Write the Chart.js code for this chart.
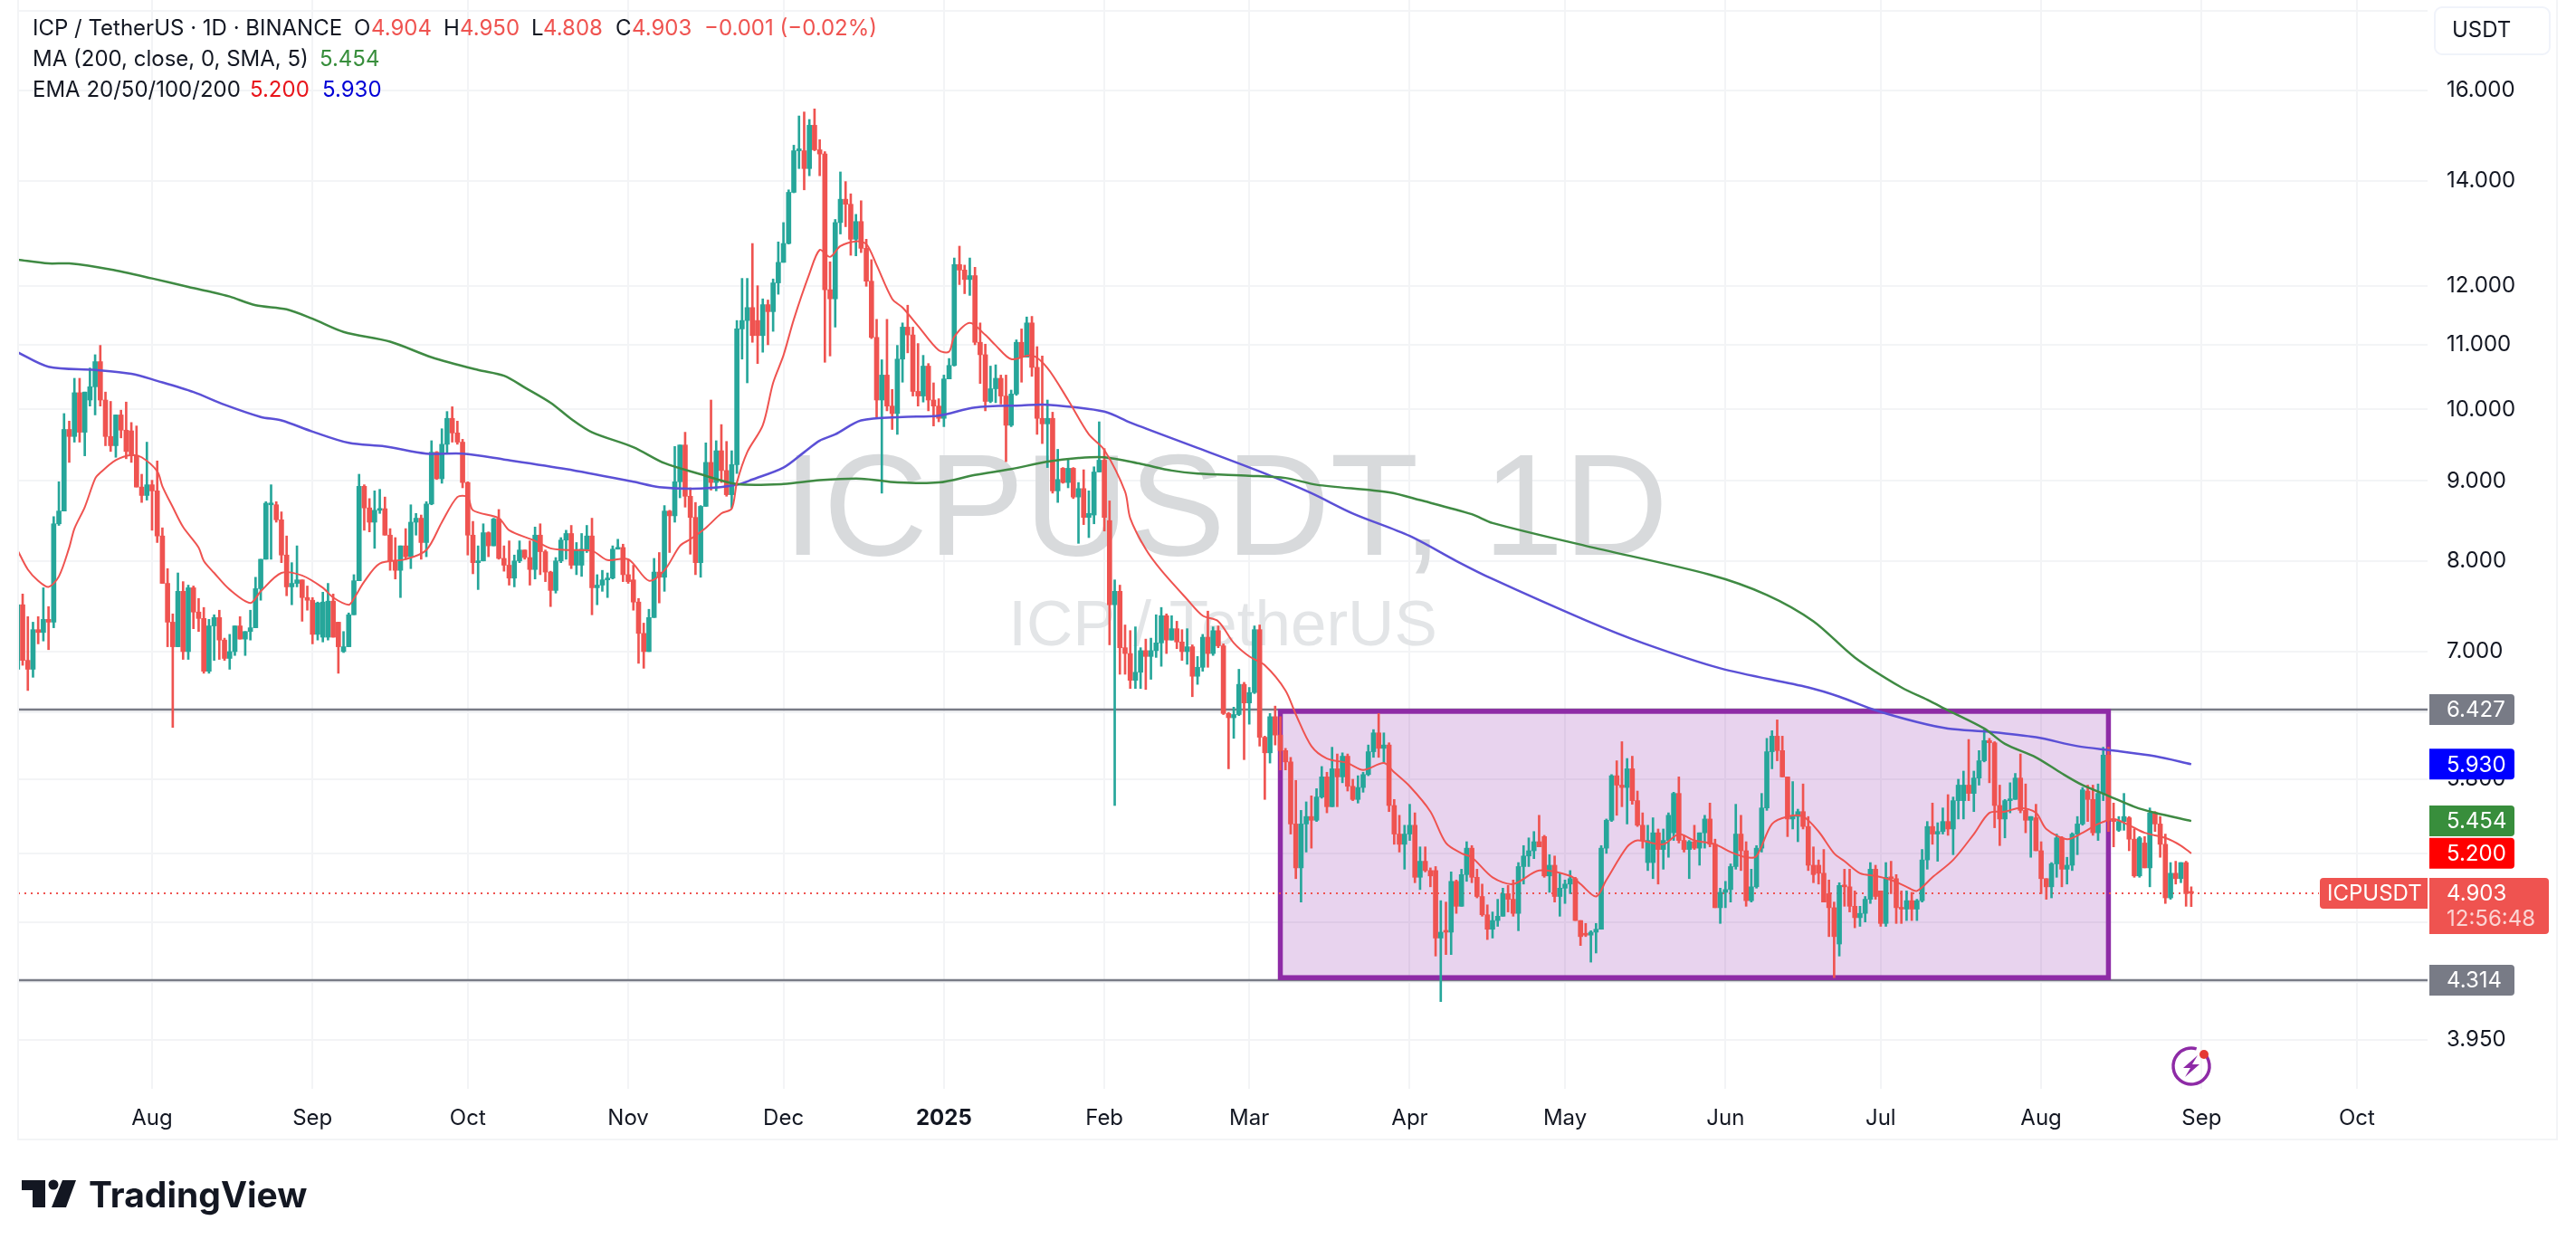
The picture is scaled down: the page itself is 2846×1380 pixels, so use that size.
<!DOCTYPE html>
<html>
<head>
<meta charset="utf-8">
<title>ICP / TetherUS</title>
<style>
    html, body { margin: 0; padding: 0; background: #ffffff; }
    canvas { display: block; }
</style>
<script src="https://cdn.jsdelivr.net/npm/chart.js@4"></script>
</head>
<body>
<canvas id="priceChart" width="2846" height="1380"></canvas>
<script>
// Daily candles, one per day. Days are counted from 1 Aug 2024.
const firstCandleDay = -26;

const opens = [
    6.82,7.50,6.91,6.82,7.23,7.20,7.34,7.31,8.45,8.61,
    9.71,9.61,10.25,9.67,10.14,10.34,10.73,10.14,9.61,9.48,
    9.92,9.70,9.69,9.34,8.92,8.81,8.95,8.87,8.30,7.74,
    7.31,7.05,7.65,7.00,7.69,7.42,7.35,6.80,7.27,7.36,
    7.12,6.93,7.00,7.27,7.13,7.21,7.25,7.68,8.02,8.69,
    8.69,8.50,8.07,7.70,7.74,7.78,7.58,7.55,7.18,7.15,
    7.15,7.54,7.31,7.00,7.05,7.39,7.77,8.93,8.65,8.47,
    8.62,8.64,8.31,8.00,7.89,8.18,8.05,8.47,8.52,8.22,
    8.70,9.39,9.03,9.50,9.87,9.66,9.53,8.98,8.31,7.98,
    8.00,8.34,8.18,8.51,8.03,7.95,7.80,8.00,8.13,8.04,
    7.90,8.31,8.11,7.87,7.66,8.00,8.25,8.33,7.95,7.95,
    8.14,8.30,7.69,7.72,7.78,7.80,8.14,8.16,7.84,7.78,
    7.53,7.19,7.00,7.36,7.87,7.81,8.61,8.55,8.99,9.49,
    8.80,8.53,7.98,8.67,9.25,8.98,9.41,9.14,8.82,9.22,
    11.26,11.40,11.62,11.40,11.15,11.67,11.55,12.05,12.42,12.77,
    13.77,14.64,14.64,14.26,15.20,14.66,14.57,11.93,11.77,13.17,
    13.63,13.53,12.85,13.19,12.68,12.08,11.12,10.14,10.52,10.05,
    9.94,10.77,11.29,11.16,10.27,10.20,10.66,10.14,10.05,9.87,
    10.46,10.67,12.38,12.28,12.11,12.18,11.04,10.84,10.12,10.31,
    10.47,10.20,9.77,10.23,11.04,10.80,11.36,10.64,9.87,9.79,
    9.87,8.87,9.17,8.98,9.17,8.79,8.90,8.53,8.56,9.12,
    9.28,8.49,7.50,7.65,7.04,6.98,6.71,6.79,7.01,6.95,
    7.01,7.09,7.38,7.12,7.24,7.10,7.00,7.05,6.75,6.84,
    7.15,6.98,7.22,7.06,6.39,6.35,6.38,6.67,6.49,6.59,
    7.23,6.17,6.03,6.36,6.19,6.05,5.95,5.43,5.09,5.43,
    5.49,5.46,5.65,5.82,5.57,5.89,5.82,6.00,5.74,5.63,
    5.73,5.84,6.04,6.21,6.07,6.10,5.58,5.35,5.27,5.35,
    5.42,5.02,5.14,5.07,5.07,4.59,4.64,4.63,4.99,4.81,
    5.04,5.24,5.02,4.88,4.75,4.65,4.71,4.74,4.90,4.86,
    4.76,5.10,5.18,5.22,5.29,5.33,5.03,5.11,4.88,4.94,
    4.97,5.01,4.71,4.62,4.61,4.63,4.65,5.24,5.46,5.83,
    5.75,5.73,5.89,5.62,5.42,5.13,5.13,5.36,5.23,5.30,
    5.36,5.68,5.30,5.23,5.29,5.24,5.36,5.47,5.27,4.80,
    4.91,4.93,5.10,5.35,5.22,4.85,4.95,5.24,5.56,6.04,
    6.18,6.05,5.82,5.47,5.49,5.53,5.41,5.11,5.11,5.05,
    4.90,4.80,4.55,4.96,4.95,4.81,4.73,4.76,4.86,5.08,
    4.92,4.69,5.02,5.01,4.80,4.79,4.85,4.79,4.85,5.15,
    5.41,5.35,5.37,5.45,5.39,5.62,5.62,5.75,5.68,5.81,
    5.96,6.14,6.12,5.58,5.47,5.62,5.63,5.81,5.54,5.46,
    5.48,5.22,5.01,4.95,5.12,5.32,5.08,5.11,5.35,5.43,
    5.70,5.63,5.36,5.68,6.01,5.46,5.38,5.45,5.48,5.31,
    5.03,5.28,5.09,5.52,5.43,5.27,4.87,5.05,5.01,5.13,4.904
];
const highs = [
    7.50,7.62,7.37,7.31,7.37,7.69,7.48,8.54,8.99,9.94,
    9.83,10.47,10.47,10.26,10.63,10.84,10.99,10.26,10.12,9.92,
    9.99,10.11,9.81,9.76,9.09,9.53,9.01,9.27,8.40,7.91,
    7.40,7.86,7.76,7.72,7.71,7.57,7.47,7.34,7.39,7.44,
    7.14,7.18,7.27,7.37,7.21,7.44,7.81,8.02,8.73,8.95,
    8.73,8.60,8.30,7.98,8.18,7.78,7.71,7.58,7.53,7.64,
    7.74,7.62,7.31,7.21,7.41,7.84,9.09,8.95,8.77,8.87,
    8.89,8.79,8.39,8.28,8.18,8.39,8.69,8.58,8.56,8.73,
    9.55,9.40,9.72,9.97,10.04,9.83,9.57,8.99,8.48,8.18,
    8.45,8.35,8.52,8.63,8.18,8.24,8.07,8.24,8.13,8.24,
    8.41,8.45,8.13,7.88,8.04,8.28,8.37,8.43,8.22,8.33,
    8.43,8.52,7.84,7.89,7.86,8.18,8.26,8.20,8.02,7.95,
    7.57,7.30,7.45,8.03,8.10,8.68,8.62,9.47,9.49,9.67,
    8.91,8.72,8.68,9.52,10.14,9.55,9.78,9.54,9.41,11.40,
    12.13,12.13,12.77,12.00,11.77,11.75,12.12,12.80,13.17,13.82,
    14.76,15.41,15.50,15.33,15.57,14.88,14.62,12.43,13.23,14.19,
    13.99,13.74,13.33,13.60,12.85,12.47,11.42,10.76,11.42,10.30,
    10.99,11.36,11.66,11.29,11.02,10.83,10.70,10.40,10.16,10.52,
    10.78,12.50,12.72,12.37,12.50,12.33,11.36,11.01,10.66,10.68,
    10.52,10.52,10.29,11.08,11.26,11.46,11.47,10.97,10.82,10.14,
    9.96,9.43,9.18,9.30,9.18,8.98,9.15,8.87,9.19,9.82,
    9.44,8.74,7.78,7.72,7.28,7.22,7.26,7.04,7.13,7.14,
    7.39,7.47,7.40,7.38,7.32,7.23,7.24,7.07,6.95,7.18,
    7.43,7.26,7.27,7.08,6.40,6.45,6.82,6.69,6.64,7.27,
    7.28,6.18,6.39,6.46,6.36,6.07,5.99,5.79,5.54,5.61,
    5.66,5.72,5.91,5.86,6.08,6.02,6.03,6.02,5.80,5.83,
    5.86,6.10,6.24,6.39,6.21,6.12,5.63,5.50,5.42,5.59,
    5.52,5.25,5.25,5.09,5.10,4.85,4.84,5.06,5.00,5.08,
    5.29,5.26,5.08,4.97,4.82,4.77,4.86,4.94,4.96,5.00,
    5.13,5.26,5.32,5.37,5.50,5.34,5.19,5.18,5.05,5.00,
    5.07,5.02,4.71,4.69,4.64,4.69,5.26,5.47,5.84,5.96,
    6.13,5.98,6.00,5.70,5.52,5.42,5.48,5.39,5.39,5.52,
    5.69,5.82,5.34,5.30,5.42,5.36,5.50,5.60,5.31,4.94,
    4.99,5.12,5.59,5.50,5.29,5.08,5.26,5.68,6.16,6.23,
    6.33,6.18,5.82,5.78,5.55,5.76,5.49,5.25,5.15,5.23,
    5.00,4.84,4.98,5.08,5.08,4.92,4.81,4.88,5.13,5.11,
    4.92,5.13,5.14,5.04,4.92,4.92,4.91,4.86,5.23,5.45,
    5.60,5.44,5.56,5.67,5.65,5.80,5.87,6.15,5.87,6.05,
    6.24,6.16,6.13,5.75,5.63,5.77,5.85,6.02,5.76,5.49,
    5.59,5.29,5.01,5.13,5.35,5.33,5.17,5.36,5.49,5.73,
    5.75,5.75,5.76,6.08,6.08,5.60,5.49,5.68,5.49,5.39,
    5.33,5.33,5.56,5.53,5.49,5.35,5.13,5.14,5.13,5.14,4.95
];
const lows = [
    6.69,6.86,6.61,6.74,7.08,7.11,7.02,7.25,8.43,8.61,
    9.25,9.53,9.53,9.34,10.05,9.92,10.05,9.48,9.40,9.32,
    9.59,9.30,9.25,8.92,8.72,8.75,8.37,8.22,7.74,7.05,
    6.26,7.05,6.92,6.92,7.24,7.21,6.78,6.78,6.91,6.92,
    6.91,6.82,6.96,7.13,6.96,7.12,7.25,7.55,8.02,8.02,
    8.47,7.98,7.60,7.50,7.70,7.32,7.44,7.08,7.12,7.10,
    7.12,7.15,6.78,6.99,7.05,7.39,7.77,8.37,8.35,8.15,
    8.58,8.31,7.89,7.79,7.58,8.02,7.91,8.31,8.02,8.05,
    8.69,9.02,8.97,9.38,9.53,9.50,8.91,8.07,7.85,7.67,
    8.00,8.05,8.18,8.02,7.88,7.72,7.70,7.98,8.02,7.72,
    7.79,7.84,7.76,7.48,7.63,7.98,8.02,7.91,7.84,7.82,
    8.10,7.39,7.50,7.65,7.58,7.79,8.14,7.76,7.74,7.44,
    6.88,6.83,7.00,7.36,7.52,7.65,8.10,8.47,8.78,8.66,
    8.08,7.84,7.81,8.67,8.88,8.87,8.98,8.80,8.65,9.10,
    10.77,10.40,11.04,10.70,10.88,11.00,11.22,11.85,12.42,12.76,
    13.76,14.26,13.82,14.11,14.64,14.11,10.72,10.82,11.29,12.95,
    13.09,12.55,12.54,12.60,11.99,11.10,9.87,8.84,9.98,9.71,
    9.64,10.41,10.87,10.20,10.05,10.11,9.98,9.76,9.82,9.75,
    10.46,10.66,12.02,11.86,11.83,11.00,10.39,9.98,10.10,10.10,
    10.08,9.26,9.75,10.21,10.41,10.80,10.50,9.64,9.51,9.18,
    8.84,8.72,8.97,8.91,8.77,8.21,8.44,8.28,8.45,9.12,
    8.36,7.07,5.58,6.77,6.77,6.63,6.63,6.63,6.62,6.72,
    6.94,6.85,6.98,7.12,7.03,6.91,6.87,6.55,6.67,6.80,
    6.84,6.96,7.04,6.38,5.89,6.16,6.37,5.97,6.29,6.58,
    6.09,5.63,5.94,6.10,5.88,5.88,5.35,5.01,4.84,5.21,
    5.24,5.45,5.64,5.52,5.57,5.57,5.77,5.70,5.62,5.60,
    5.69,5.83,5.99,5.99,5.94,5.53,5.27,5.21,5.08,5.30,
    4.98,4.93,5.06,4.95,4.47,4.18,4.48,4.48,4.76,4.81,
    4.99,4.98,4.87,4.74,4.58,4.59,4.67,4.74,4.77,4.74,
    4.64,4.97,5.10,5.16,5.25,5.02,4.91,4.84,4.74,4.83,
    4.90,4.71,4.54,4.60,4.43,4.49,4.65,5.20,5.45,5.50,
    5.57,5.43,5.59,5.41,5.24,5.07,5.01,4.97,5.08,5.17,
    5.30,5.28,5.21,5.01,5.23,5.11,5.24,5.25,4.80,4.69,
    4.80,4.84,5.08,5.07,4.81,4.84,4.94,5.21,5.54,5.89,
    5.96,5.82,5.33,5.39,5.29,5.39,5.07,4.98,4.97,4.84,
    4.60,4.33,4.47,4.81,4.77,4.66,4.67,4.70,4.83,4.86,
    4.67,4.67,4.90,4.69,4.69,4.71,4.71,4.71,4.84,5.08,
    5.27,5.14,5.35,5.34,5.19,5.47,5.47,5.62,5.53,5.75,
    5.95,5.77,5.40,5.26,5.32,5.52,5.63,5.52,5.36,5.17,
    5.22,4.90,4.86,4.87,5.02,4.95,4.97,5.07,5.19,5.42,
    5.45,5.34,5.30,5.62,5.37,5.25,5.37,5.38,5.22,5.02,
    5.02,5.09,4.95,5.37,5.17,4.83,4.86,4.97,4.98,4.81,4.808
];
const closes = [
    7.50,6.91,6.82,7.23,7.20,7.34,7.31,8.45,8.61,9.71,
    9.61,10.25,9.67,10.26,10.34,10.73,10.14,9.61,9.48,9.92,
    9.70,9.40,9.34,8.92,8.81,8.95,8.87,8.30,7.74,7.31,
    7.05,7.65,7.00,7.69,7.42,7.35,6.80,7.27,7.36,7.12,
    6.93,7.00,7.27,7.13,7.21,7.25,7.68,8.02,8.71,8.71,
    8.50,8.07,7.70,7.74,7.78,7.58,7.55,7.18,7.52,7.53,
    7.54,7.15,7.05,7.05,7.39,7.77,8.93,8.65,8.47,8.62,
    8.64,8.31,8.00,7.89,8.18,8.05,8.47,8.52,8.22,8.70,
    9.39,9.03,9.50,9.87,9.66,9.53,8.98,8.31,7.98,8.00,
    8.34,8.18,8.51,8.03,7.95,7.80,8.00,8.13,8.04,7.90,
    8.31,8.11,7.87,7.66,8.00,8.25,8.33,7.95,8.13,8.14,
    8.30,7.69,7.72,7.78,7.80,8.14,8.16,7.84,7.76,7.53,
    7.19,7.00,7.36,7.87,7.81,8.61,8.55,8.99,9.49,8.80,
    8.53,7.98,8.67,9.25,8.98,9.41,9.14,8.82,9.22,11.26,
    11.40,11.62,11.15,11.15,11.67,11.55,12.05,12.42,12.77,13.77,
    14.64,14.68,14.26,15.20,14.66,14.57,11.93,11.77,13.17,13.63,
    13.53,12.85,13.19,12.68,12.08,11.12,10.14,10.52,10.05,9.94,
    10.77,11.29,11.16,10.27,10.20,10.66,10.14,10.05,9.87,10.46,
    10.67,12.38,12.28,12.11,12.18,11.04,10.84,10.12,10.31,10.47,
    10.20,9.77,10.23,11.04,10.80,11.36,10.64,9.87,9.79,9.87,
    8.87,9.02,8.98,9.17,8.79,8.90,8.53,8.58,9.12,9.28,
    8.53,7.50,7.65,7.04,6.98,6.71,6.79,7.01,6.95,7.01,
    7.09,7.38,7.12,7.24,7.10,7.00,7.05,6.75,6.84,7.15,
    6.98,7.22,7.06,6.39,6.35,6.38,6.67,6.49,6.59,7.23,
    6.17,6.03,6.36,6.19,6.05,5.95,5.43,5.09,5.43,5.49,
    5.46,5.65,5.82,5.57,5.89,5.82,6.00,5.74,5.63,5.73,
    5.84,6.04,6.21,6.07,6.10,5.58,5.35,5.27,5.35,5.42,
    5.02,5.14,5.07,5.03,4.59,4.63,4.63,4.99,4.81,5.04,
    5.24,5.02,4.88,4.75,4.65,4.71,4.74,4.90,4.86,4.76,
    5.10,5.18,5.22,5.29,5.25,5.03,5.11,4.88,4.94,4.97,
    5.01,4.71,4.60,4.61,4.63,4.65,5.24,5.46,5.83,5.75,
    5.73,5.89,5.62,5.42,5.30,5.30,5.36,5.23,5.30,5.50,
    5.68,5.30,5.23,5.29,5.24,5.36,5.47,5.27,4.80,4.91,
    4.93,5.10,5.35,5.22,4.85,4.95,5.24,5.56,6.04,6.18,
    6.05,5.82,5.47,5.49,5.53,5.41,5.11,5.04,5.05,4.84,
    4.80,4.60,4.96,4.95,4.81,4.73,4.76,4.86,5.08,4.88,
    4.69,5.02,5.01,4.80,4.79,4.85,4.79,4.85,5.15,5.41,
    5.35,5.37,5.45,5.39,5.62,5.75,5.75,5.68,5.81,5.96,
    6.14,6.12,5.58,5.47,5.62,5.63,5.81,5.54,5.46,5.49,
    5.22,5.01,4.95,5.12,5.32,5.08,5.11,5.35,5.43,5.71,
    5.63,5.36,5.68,6.01,5.46,5.45,5.45,5.49,5.31,5.03,
    5.32,5.09,5.52,5.43,5.27,4.87,5.05,5.01,5.13,4.90,4.903
];

// Indicator lines at these days
const ema20Days = [-26,-24,-22,-20,-18,-16,-15,-13,-11,-10,-7,-4,-2,1,2,4,6,9,10,12,15,19,21,25,29,33,35,38,39,41,44,49,53,56,59,61,62,67,69,74,77,80,85,88,92,96,99,102,104,107,110,112,113,115,118,120,122,124,127,129,131,133,136,138,140,143,145,148,152,154,155,158,161,163,166,170,173,177,181,184,188,189,192,195,200,203,206,209,212,215,219,221,224,227,231,234,238,240,243,247,250,253,255,259,263,268,274,276,279,281,285,287,292,295,298,302,305,308,310,313,316,319,322,325,327,330,333,336,339,341,344,348,352,355,358,361,364,366,370,373,376,379,382,385,389,392,394];
const ema20 = [8.13,7.90,7.77,7.70,7.82,8.16,8.39,8.66,9.03,9.11,9.28,9.35,9.32,9.13,8.93,8.66,8.41,8.16,8.00,7.86,7.67,7.52,7.65,7.86,7.83,7.69,7.58,7.50,7.57,7.76,7.97,8.02,8.13,8.47,8.79,8.79,8.62,8.52,8.37,8.24,8.15,8.13,8.12,8.01,8.02,7.77,7.89,8.18,8.26,8.40,8.58,8.64,8.98,9.39,9.77,10.40,10.83,11.42,12.21,12.65,12.52,12.72,12.81,12.76,12.37,11.77,11.62,11.31,10.91,10.89,11.13,11.36,11.16,10.99,10.77,10.83,10.63,10.14,9.64,9.42,8.86,8.52,8.14,7.89,7.56,7.38,7.32,7.09,6.95,6.86,6.61,6.38,6.09,5.98,5.94,5.88,5.94,5.86,5.74,5.53,5.28,5.20,5.17,5.02,4.97,5.07,5.03,4.97,4.88,5.00,5.25,5.30,5.27,5.35,5.30,5.27,5.21,5.17,5.18,5.43,5.49,5.49,5.37,5.20,5.14,5.05,5.03,5.00,4.95,4.92,5.02,5.15,5.35,5.52,5.53,5.56,5.52,5.39,5.31,5.36,5.43,5.47,5.42,5.36,5.32,5.26,5.20];

const ma200Days = [-26,-20,-16,-8,0,7,11,15,20,26,31,37,46,54,63,68,72,77,81,85,93,99,106,113,122,129,137,144,152,159,166,173,179,184,191,197,202,212,219,225,239,245,255,259,277,301,312,321,329,338,343,347,354,358,364,369,373,378,383,387,394];
const ma200 = [12.47,12.40,12.40,12.29,12.13,11.98,11.90,11.81,11.66,11.59,11.43,11.21,11.05,10.80,10.60,10.51,10.33,10.10,9.86,9.67,9.46,9.24,9.09,8.96,8.96,9.01,9.03,8.98,8.98,9.08,9.16,9.26,9.31,9.32,9.23,9.14,9.10,9.07,9.04,8.95,8.85,8.75,8.57,8.46,8.18,7.84,7.61,7.32,6.94,6.64,6.52,6.42,6.25,6.11,5.99,5.85,5.75,5.66,5.57,5.52,5.454];

const ema200Days = [-26,-20,-11,-4,1,8,14,21,25,31,38,45,53,60,68,80,93,98,106,113,116,122,126,129,132,137,145,152,159,168,173,184,189,202,215,224,232,243,252,259,277,288,303,320,326,333,341,347,355,364,372,379,387,394];
const ema200 = [10.88,10.65,10.60,10.54,10.43,10.26,10.07,9.89,9.84,9.68,9.52,9.47,9.37,9.37,9.29,9.16,8.99,8.92,8.90,8.95,9.02,9.18,9.39,9.55,9.64,9.84,9.89,9.91,10.03,10.06,10.07,9.97,9.81,9.45,9.10,8.84,8.58,8.30,8.00,7.79,7.33,7.09,6.83,6.64,6.55,6.42,6.31,6.25,6.22,6.17,6.09,6.05,6.00,5.93];

// Price axis
const yTicks = [18, 16, 14, 12, 11, 10, 9, 8, 7, 6.4, 5.8, 5.2, 4.7, 4.3, 3.95];
const yTickLabels = ['', '16.000', '14.000', '12.000', '11.000', '10.000', '9.000', '8.000', '7.000', '', '5.800', '', '', '', '3.950'];

// Time axis
const monthDays = [0, 31, 61, 92, 122, 153, 184, 212, 243, 273, 304, 334, 365, 396, 426];
const monthLabels = ['Aug', 'Sep', 'Oct', 'Nov', 'Dec', '2025', 'Feb', 'Mar', 'Apr', 'May', 'Jun', 'Jul', 'Aug', 'Sep', 'Oct'];

// Drawn range box and levels
const boxFirstDay = 218;
const boxLastDay = 378;
const boxTop = 6.41;
const boxBottom = 4.33;
const levelTop = 6.427;
const levelBottom = 4.314;
const lastPrice = 4.903;
const ma200Last = 5.454;
const ema20Last = 5.200;
const ema200Last = 5.930;

const UP = '#26a69a';
const DOWN = '#ef5350';
const FONT = 'Inter, "Noto Sans", sans-serif';

const candleDays = opens.map((o, i) => firstCandleDay + i);
const candleColors = opens.map((o, i) => closes[i] >= o ? UP : DOWN);

function tag(ctx, x, y, w, h, color, radius) {
    ctx.fillStyle = color;
    ctx.beginPath();
    ctx.roundRect(x, y, w, h, radius);
    ctx.fill();
}

function label(ctx, text, x, y, color, font) {
    ctx.font = font || ('24px ' + FONT);
    ctx.fillStyle = color;
    ctx.textAlign = 'left';
    ctx.textBaseline = 'middle';
    ctx.fillText(text, x, y);
}

const overlayPlugin = {
    id: 'overlay',
    beforeDatasetsDraw(chart) {
        const ctx = chart.ctx;
        const area = chart.chartArea;
        const xs = chart.scales.x;
        const ys = chart.scales.y;
        ctx.save();

        // Watermark
        ctx.textAlign = 'center';
        ctx.textBaseline = 'alphabetic';
        ctx.font = '160px "Liberation Sans", Arial, sans-serif';
        ctx.fillStyle = '#d8dadc';
        ctx.fillText('ICPUSDT, 1D', 1354, 613);
        ctx.font = '71px "Liberation Sans", Arial, sans-serif';
        ctx.fillStyle = '#e3e5e7';
        ctx.fillText('ICP / TetherUS', 1351, 713);

        // Range box
        const bx = xs.getPixelForValue(boxFirstDay);
        const bx2 = xs.getPixelForValue(boxLastDay);
        const by = ys.getPixelForValue(boxTop);
        const by2 = ys.getPixelForValue(boxBottom);
        ctx.fillStyle = 'rgba(142, 36, 170, 0.2)';
        ctx.fillRect(bx, by, bx2 - bx, by2 - by);

        // Levels
        ctx.strokeStyle = '#787b86';
        ctx.lineWidth = 2.5;
        [levelTop, levelBottom].forEach(v => {
            const y = ys.getPixelForValue(v);
            ctx.beginPath();
            ctx.moveTo(area.left, y);
            ctx.lineTo(area.right, y);
            ctx.stroke();
        });

        ctx.strokeStyle = '#8e2ba6';
        ctx.lineWidth = 5.5;
        ctx.strokeRect(bx, by, bx2 - bx, by2 - by);

        // Last price line
        const ly = ys.getPixelForValue(lastPrice);
        ctx.strokeStyle = DOWN;
        ctx.lineWidth = 2;
        ctx.setLineDash([2, 5]);
        ctx.beginPath();
        ctx.moveTo(area.left, ly);
        ctx.lineTo(2562, ly);
        ctx.stroke();
        ctx.restore();
    },
    afterDraw(chart) {
        const ctx = chart.ctx;
        const ys = chart.scales.y;
        ctx.save();

        // Outer frame of the chart
        ctx.strokeStyle = '#f3f4f6';
        ctx.lineWidth = 2;
        ctx.strokeRect(20, -2, 2805, 1261);

        // Header
        const dark = '#131722';
        label(ctx, 'ICP / TetherUS · 1D · BINANCE', 36, 32, dark);
        label(ctx, 'O', 391, 32, dark);
        label(ctx, '4.904', 410, 32, DOWN);
        label(ctx, 'H', 490, 32, dark);
        label(ctx, '4.950', 508, 32, DOWN);
        label(ctx, 'L', 587, 32, dark);
        label(ctx, '4.808', 600, 32, DOWN);
        label(ctx, 'C', 680, 32, dark);
        label(ctx, '4.903', 698, 32, DOWN);
        label(ctx, '−0.001 (−0.02%)', 778, 32, DOWN);
        label(ctx, 'MA (200, close, 0, SMA, 5)', 36, 66, dark);
        label(ctx, '5.454', 353, 66, '#388e3c');
        label(ctx, 'EMA 20/50/100/200', 36, 100, dark);
        label(ctx, '5.200', 276, 100, '#e8151b');
        label(ctx, '5.930', 356, 100, '#0000d6');

        // Currency button
        ctx.fillStyle = '#ffffff';
        ctx.strokeStyle = '#f0f3fa';
        ctx.lineWidth = 2;
        ctx.beginPath();
        ctx.roundRect(2690, 8, 127, 52, 8);
        ctx.fill();
        ctx.stroke();
        label(ctx, 'USDT', 2709, 34, dark);

        // Price tags
        const tags = [
            [levelTop, '#787b86'],
            [ema200Last, '#0000ff'],
            [ma200Last, '#388e3c'],
            [ema20Last, '#ff0000'],
            [levelBottom, '#787b86']
        ];
        tags.forEach(([v, color]) => {
            const y = ys.getPixelForValue(v);
            tag(ctx, 2684, y - 17, 94, 34, color, [0, 4, 4, 0]);
            label(ctx, v.toFixed(3), 2703, y + 1, '#ffffff');
        });

        // Last price and countdown
        const ly = ys.getPixelForValue(lastPrice);
        tag(ctx, 2684, ly - 17, 132, 62, DOWN, [0, 4, 4, 0]);
        label(ctx, lastPrice.toFixed(3), 2703, ly + 1, '#ffffff');
        label(ctx, '12:56:48', 2703, ly + 29, 'rgba(255,255,255,0.75)');
        tag(ctx, 2563, ly - 17, 119, 34, DOWN, [4, 0, 0, 4]);
        label(ctx, 'ICPUSDT', 2571, ly + 1, '#ffffff');

        // Bolt icon
        ctx.strokeStyle = '#8e2ba6';
        ctx.lineWidth = 3.5;
        ctx.beginPath();
        ctx.arc(2421, 1178, 20, -0.9, 5.0);
        ctx.stroke();
        ctx.fillStyle = '#8e2ba6';
        ctx.beginPath();
        ctx.moveTo(2428, 1166);
        ctx.lineTo(2412, 1180);
        ctx.lineTo(2420, 1180);
        ctx.lineTo(2414, 1190);
        ctx.lineTo(2430, 1176);
        ctx.lineTo(2422, 1176);
        ctx.closePath();
        ctx.fill();
        ctx.fillStyle = '#e53935';
        ctx.beginPath();
        ctx.arc(2435, 1165, 5, 0, Math.PI * 2);
        ctx.fill();

        // TradingView logo
        ctx.fillStyle = '#131722';
        ctx.beginPath();
        ctx.moveTo(24, 1304);
        ctx.lineTo(50, 1304);
        ctx.lineTo(50, 1334);
        ctx.lineTo(36, 1334);
        ctx.lineTo(36, 1315);
        ctx.lineTo(24, 1315);
        ctx.closePath();
        ctx.fill();
        ctx.beginPath();
        ctx.arc(59, 1309, 5.5, 0, Math.PI * 2);
        ctx.fill();
        ctx.beginPath();
        ctx.moveTo(69, 1304);
        ctx.lineTo(84, 1304);
        ctx.lineTo(73, 1334);
        ctx.lineTo(57, 1334);
        ctx.closePath();
        ctx.fill();
        ctx.font = '700 39px ' + FONT;
        ctx.textAlign = 'left';
        ctx.textBaseline = 'alphabetic';
        ctx.fillText('TradingView', 98, 1334);
        ctx.restore();
    }
};

new Chart(document.getElementById('priceChart').getContext('2d'), {
    type: 'bar',
    data: {
        datasets: [
            {
                type: 'line',
                label: 'EMA 20',
                data: ema20Days.map((d, i) => ({ x: d, y: ema20[i] })),
                borderColor: '#ef5350',
                borderWidth: 2,
                pointRadius: 0,
                tension: 0.3,
                order: 1
            },
            {
                type: 'line',
                label: 'MA 200',
                data: ma200Days.map((d, i) => ({ x: d, y: ma200[i] })),
                borderColor: '#3f8a43',
                borderWidth: 2.5,
                pointRadius: 0,
                tension: 0.3,
                order: 2
            },
            {
                type: 'line',
                label: 'EMA 200',
                data: ema200Days.map((d, i) => ({ x: d, y: ema200[i] })),
                borderColor: '#5b50d6',
                borderWidth: 2.5,
                pointRadius: 0,
                tension: 0.3,
                order: 3
            },
            {
                label: 'Body',
                data: candleDays.map((d, i) => ({ x: d, y: [opens[i], closes[i]] })),
                backgroundColor: candleColors,
                barThickness: 5,
                minBarLength: 2,
                grouped: false,
                order: 4
            },
            {
                label: 'Wick',
                data: candleDays.map((d, i) => ({ x: d, y: [lows[i], highs[i]] })),
                backgroundColor: candleColors,
                barThickness: 2,
                grouped: false,
                order: 5
            }
        ]
    },
    options: {
        responsive: false,
        animation: false,
        devicePixelRatio: 1,
        layout: {
            autoPadding: false,
            padding: { left: 20, right: 21, top: 0, bottom: 121 }
        },
        plugins: {
            legend: { display: false },
            title: { display: false },
            tooltip: { enabled: false }
        },
        scales: {
            x: {
                type: 'linear',
                offset: false,
                min: -25.88,
                max: 439.66,
                grid: { color: '#f3f4f6', lineWidth: 2, drawTicks: false, offset: false },
                border: { display: false },
                afterBuildTicks: scale => {
                    scale.ticks = monthDays.map(d => ({ value: d }));
                },
                afterFit: scale => {
                    scale.height = 56;
                    scale.paddingLeft = 0;
                    scale.paddingRight = 0;
                },
                ticks: {
                    autoSkip: false,
                    maxRotation: 0,
                    padding: 18,
                    color: '#131722',
                    font: ctx => ({
                        family: FONT,
                        size: 24,
                        weight: ctx.tick && ctx.tick.value === 153 ? '700' : '400'
                    }),
                    callback: (value, i) => monthLabels[i]
                }
            },
            y: {
                type: 'logarithmic',
                position: 'right',
                bounds: 'data',
                min: 3.676,
                max: 18.28,
                grid: { color: '#f3f4f6', lineWidth: 2, drawTicks: false },
                border: { display: false },
                afterBuildTicks: scale => {
                    scale.ticks = yTicks.map(v => ({ value: v }));
                },
                afterFit: scale => {
                    scale.width = 143;
                    scale.paddingTop = 0;
                    scale.paddingBottom = 0;
                },
                ticks: {
                    autoSkip: false,
                    padding: 21,
                    color: '#131722',
                    font: { family: FONT, size: 24 },
                    callback: (value, i) => yTickLabels[i]
                }
            }
        }
    },
    plugins: [overlayPlugin]
});
</script>
</body>
</html>
